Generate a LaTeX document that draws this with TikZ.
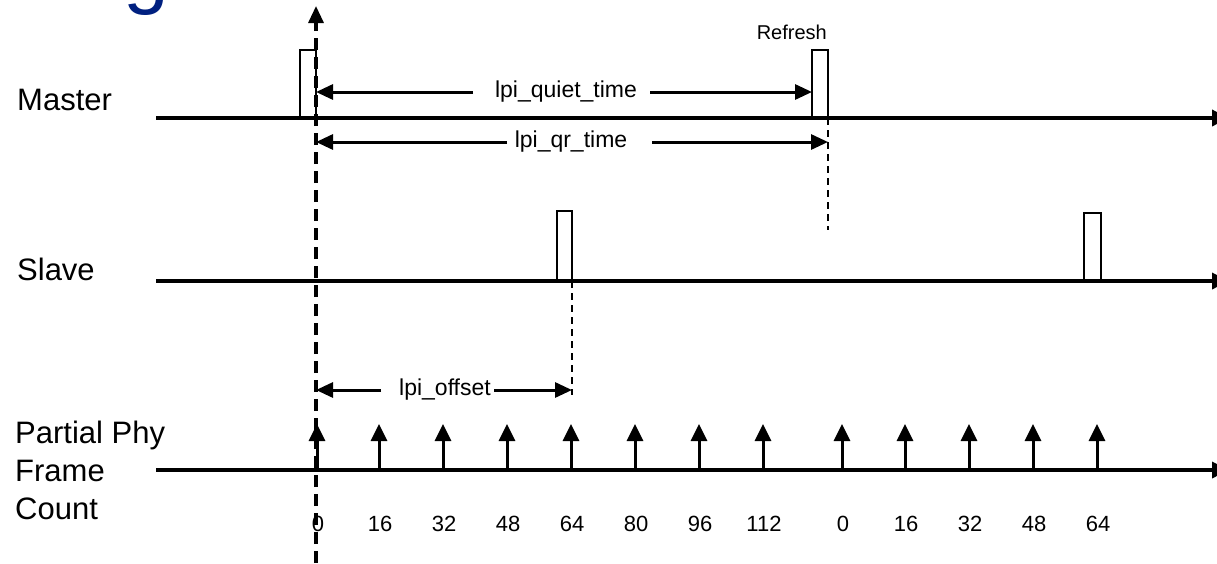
\documentclass[tikz,border=0pt]{standalone}
\usepackage{fontspec}
\setmainfont{Liberation Sans}
\usetikzlibrary{arrows.meta}
\definecolor{titleblue}{RGB}{0,32,128}
\begin{document}
\begin{tikzpicture}[x=1pt,y=-1pt,
  axis/.style={line width=3.4pt,-{Triangle[length=17pt,width=16pt]}},
  pulse/.style={draw,line width=2.8pt,inner sep=0pt,outer sep=0pt,minimum width=16pt,minimum height=68pt,anchor=south},
  dim/.style={line width=3pt,-{Triangle[length=17pt,width=15pt]}},
  tick/.style={line width=3pt,-{Triangle[length=17pt,width=16pt]}},
  bigdash/.style={line width=3.2pt,dash pattern=on 12pt off 7pt},
  smalldash/.style={line width=2.4pt,dash pattern=on 7pt off 5pt},
  rowlbl/.style={font=\fontsize{31}{38}\selectfont,inner sep=0pt,anchor=base west},
  dimlbl/.style={font=\fontsize{23}{28}\selectfont,inner sep=0pt},
  numlbl/.style={font=\fontsize{22}{26}\selectfont,inner sep=0pt,anchor=base},
]
\useasboundingbox (0,0) rectangle (1217,563);

% cropped title fragment
\node[font=\fontsize{82}{82}\selectfont,text=titleblue,inner sep=0pt,anchor=base] (title) at (146,-2) {g};

% row labels
\node[rowlbl] (master) at (17,110) {Master};
\node[rowlbl] (slave) at (17,280) {Slave};
\node[rowlbl,align=left] (ppfc) at (15,519) {Partial Phy\\Frame\\Count};

% timelines
\coordinate (mA) at (156,118); \coordinate (mB) at (1229,118);
\coordinate (sA) at (156,281); \coordinate (sB) at (1229,281);
\coordinate (cA) at (156,470); \coordinate (cB) at (1229,470);
\draw[axis] (mA) -- (mB);
\draw[axis] (sA) -- (sB);
\draw[axis] (cA) -- (cB);

% pulses
\node[pulse] (p1) at (308,118) {};
\node[pulse] (rf) at (820,118) {};
\node[pulse,minimum width=15pt,minimum height=70pt] (s1) at (564.5,281) {};
\node[pulse,minimum width=17pt] (s2) at (1092.5,281) {};
\node[font=\fontsize{20}{24}\selectfont,inner sep=0pt,anchor=base east] (rtxt) at (827,39) {Refresh};

% main dashed reference line
\coordinate (dtop) at (316,6);
\coordinate (dbot) at (316,563);
\draw[bigdash,-{Triangle[length=17pt,width=15pt]}] (dbot) -- (dtop);

% small dashed lines
\coordinate (rfend) at (828,230);
\coordinate (s1end) at (572,395);
\draw[smalldash] (rf.south east) -- (rfend);
\draw[smalldash] (s1.south east) -- (s1end);

% lpi_quiet_time
\node[dimlbl] (qt) at (566,92) {lpi\_quiet\_time};
\coordinate (qtL) at (473,92); \coordinate (qtR) at (650,92);
\draw[dim] (qtL) -- (p1.east |- qt);
\draw[dim] (qtR) -- (rf.west |- qt);

% lpi_qr_time
\node[dimlbl] (qr) at (571,142) {lpi\_qr\_time};
\coordinate (qrL) at (507,142); \coordinate (qrR) at (652,142);
\draw[dim] (qrL) -- (dtop |- qr);
\draw[dim] (qrR) -- (rf.east |- qr);

% lpi_offset
\node[dimlbl] (off) at (445,390) {lpi\_offset};
\coordinate (ofL) at (381,390); \coordinate (ofR) at (494,390);
\draw[dim] (ofL) -- (dtop |- off);
\draw[dim] (ofR) -- (s1end |- off);

% frame count ticks
\foreach \x/\lab [count=\i] in {317/0,379/16,443/32,507/48,571/64,635/80,699/96,763/112,842/0,905/16,969/32,1033/48,1097/64}{
  \coordinate (t\i) at (\x,470);
  \coordinate (h\i) at (\x,424);
  \draw[tick] (t\i) -- (h\i);
  \node[numlbl] (n\i) at (\x+1,531) {\lab};
}
\end{tikzpicture}
\end{document}
